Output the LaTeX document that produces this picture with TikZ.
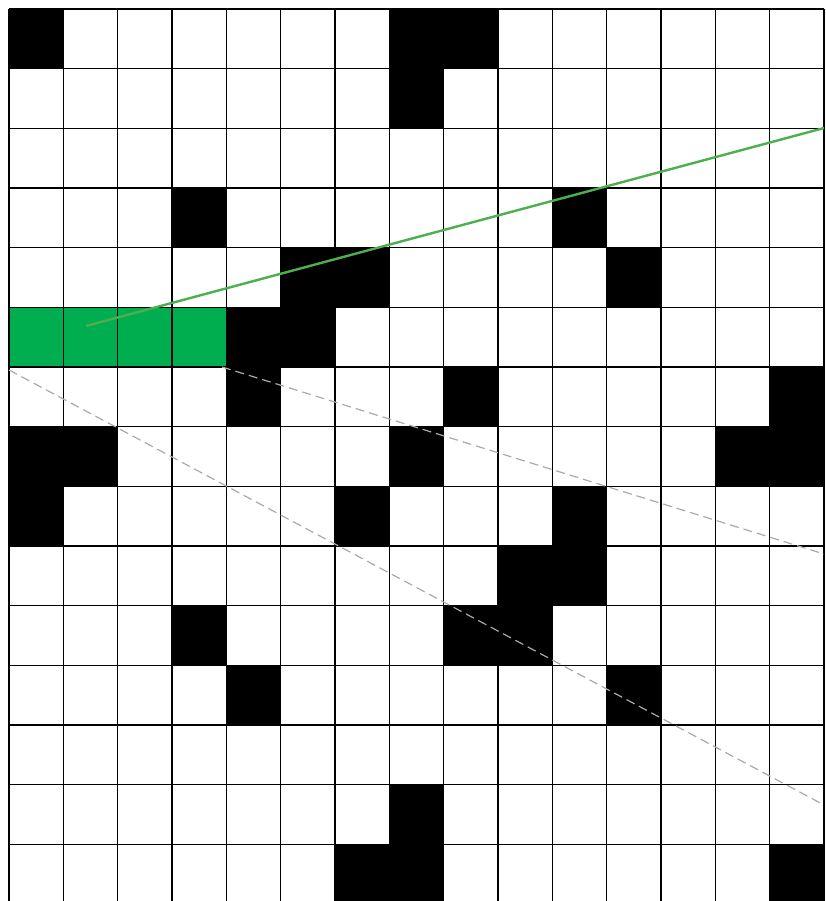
\documentclass[tikz,border=0pt]{standalone}
\definecolor{cellgreen}{RGB}{0,173,79}
\definecolor{linegreen}{RGB}{76,175,80}
\definecolor{dashgray}{RGB}{170,170,170}
\begin{document}
\begin{tikzpicture}[x=1pt,y=-1pt,
  blackcell/.style={fill=black},
  greencell/.style={fill=cellgreen},
  gridline/.style={draw=black,line width=1.2pt},
  sightline/.style={draw=linegreen,line width=2.4pt},
  rayline/.style={draw=dashgray,line width=1.2pt,dash pattern=on 9pt off 5pt}]
\useasboundingbox (0,0) rectangle (826,901);
\fill[white] (0,0) rectangle (826,901);
\begin{scope}
\clip (0,0) rectangle (826,901);
\pgfmathsetmacro{\w}{815/15}
\pgfmathsetmacro{\h}{59.67}
% black cells: col/row
\foreach \c/\r in {0/0,7/0,8/0,7/1,3/3,10/3,5/4,6/4,11/4,4/5,5/5,4/6,8/6,14/6,0/7,1/7,7/7,13/7,14/7,0/8,6/8,10/8,9/9,10/9,3/10,8/10,9/10,4/11,11/11,7/13,6/14,7/14,14/14}
  \fill[blackcell] ({9+\c*\w},{9+\r*\h}) rectangle ({9+(\c+1)*\w},{9+(\r+1)*\h});
\foreach \c in {0,1,2,3}
  \fill[greencell] ({9+\c*\w},{9+5*\h}) rectangle ({9+(\c+1)*\w},{9+6*\h});
% grid
\foreach \i in {0,...,15}
  \draw[gridline] ({9+\i*\w},9) -- ({9+\i*\w},{9+15*\h});
\foreach \j in {0,...,15}
  \draw[gridline] (9,{9+\j*\h}) -- (824,{9+\j*\h});
\draw[black,line width=2.4pt] (9,9) -- (9,{9+15*\h});
% lines
\draw[sightline] (86,326) -- (824,128);
\draw[rayline] (222,367) -- (824,554);
\draw[rayline] (9,370) -- (824,805);
\end{scope}
\end{tikzpicture}
\end{document}
